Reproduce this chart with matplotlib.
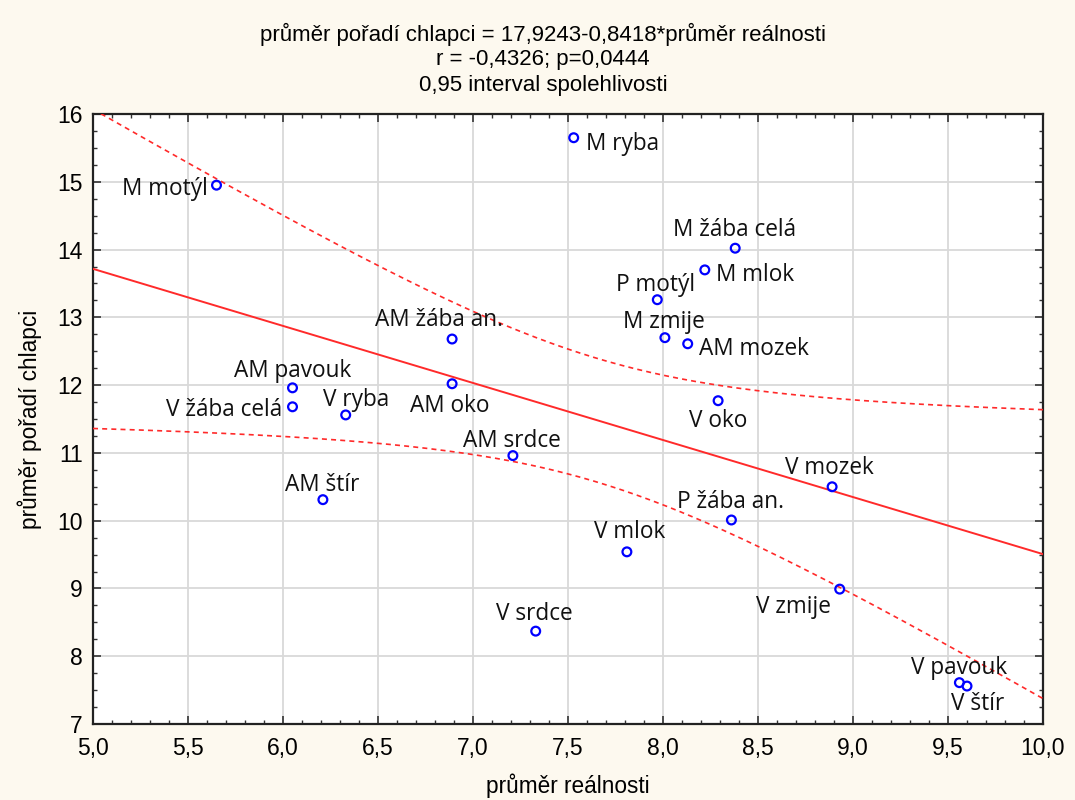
import numpy as np
import matplotlib
matplotlib.use('Agg')
import matplotlib.pyplot as plt
from matplotlib.ticker import MultipleLocator, FuncFormatter

# data
names = ['M motýl', 'M ryba', 'M žába celá', 'M mlok', 'P motýl', 'M zmije',
         'AM mozek', 'AM žába an.', 'AM oko', 'AM pavouk', 'V žába celá',
         'V ryba', 'V oko', 'AM srdce', 'AM štír', 'V mozek', 'P žába an.',
         'V mlok', 'V zmije', 'V srdce', 'V pavouk', 'V štír']
realnost = [5.65, 7.53, 8.38, 8.22, 7.97, 8.01, 8.13, 6.89, 6.89, 6.05, 6.05,
            6.33, 8.29, 7.21, 6.21, 8.89, 8.36, 7.81, 8.93, 7.33, 9.56, 9.60]
poradi = [14.95, 15.65, 14.02, 13.70, 13.26, 12.70, 12.61, 12.68, 12.02, 11.96, 11.68,
          11.56, 11.77, 10.96, 10.31, 10.50, 10.01, 9.54, 8.99, 8.37, 7.61, 7.56]

# regression from the chart title
b0 = 17.9243
b1 = -0.8418

# label offsets in pixels (dx, dy, ha)
offs = [(-9, -4, 'right'), (12, -6, 'left'), (-1, 18, 'center'), (11, -5, 'left'),
        (-2, 15, 'center'), (-1, 16, 'center'), (11, -5, 'left'), (-13, 19, 'center'),
        (-2, -22, 'center'), (0, 17, 'center'), (-10, -3, 'right'), (10, 15, 'center'),
        (0, -20, 'center'), (-1, 15, 'center'), (-1, 15, 'center'), (-3, 19, 'center'),
        (-1, 18, 'center'), (3, 20, 'center'), (-46, -18, 'center'), (-1, 17, 'center'),
        (0, 15, 'center'), (11, -18, 'center')]

x = np.array(realnost)
y = np.array(poradi)
n = len(x)

fig = plt.figure(figsize=(10.75, 8), dpi=100)
fig.patch.set_facecolor('#fdf9ef')
ax = fig.add_axes([93/1075, 1 - 724/800, (1043-93)/1075, (724-114)/800])
ax.set_facecolor('white')

# confidence band for the mean
xx = np.linspace(5, 10, 200)
resid = y - (b0 + b1 * x)
s = np.sqrt(np.sum(resid**2) / (n - 2))
sxx = np.sum((x - x.mean())**2)
t = 2.086
se = s * np.sqrt(1/n + (xx - x.mean())**2 / sxx)
yy = b0 + b1 * xx

ax.plot(xx, yy, color='#ff2a2a', lw=1.4, zorder=3)
ax.plot(xx, yy + t*se, color='#ff2a2a', lw=1.2, ls=(0, (3, 2.5)), zorder=3)
ax.plot(xx, yy - t*se, color='#ff2a2a', lw=1.2, ls=(0, (3, 2.5)), zorder=3)

ax.scatter(x, y, s=40, facecolors='none', edgecolors='#0000ff', linewidths=1.6, zorder=4)

for i in range(n):
    dx, dy, ha = offs[i]
    ax.annotate(names[i], (x[i], y[i]), xytext=(dx, dy), textcoords='offset pixels',
                ha=ha, va='center', fontsize=16.3, family='Open Sans', color='#111111', zorder=5)

ax.set_xlim(5, 10)
ax.set_ylim(7, 16)
ax.xaxis.set_major_locator(MultipleLocator(0.5))
ax.xaxis.set_minor_locator(MultipleLocator(0.1))
ax.yaxis.set_major_locator(MultipleLocator(1))
ax.yaxis.set_minor_locator(MultipleLocator(0.25))
ax.xaxis.set_major_formatter(FuncFormatter(lambda v, p: ('%.1f' % v).replace('.', ',')))
ax.yaxis.set_major_formatter(FuncFormatter(lambda v, p: '%d' % v))
ax.tick_params(which='both', direction='in', top=True, right=True, color='#333333')
ax.tick_params(which='major', length=6, width=1.2, labelsize=16.5)
ax.tick_params(axis='x', which='major', pad=9)
ax.tick_params(axis='y', which='major', pad=7.5)
ax.tick_params(which='minor', length=3, width=1)
for lab in ax.get_xticklabels() + ax.get_yticklabels():
    lab.set_family('Liberation Sans')
ax.grid(True, which='major', color='#d9d9d9', lw=1.3)
ax.set_axisbelow(True)
for sp in ax.spines.values():
    sp.set_color('#222222')
    sp.set_linewidth(1.6)

ax.set_xlabel('průměr reálnosti', fontsize=16.3, family='Liberation Sans', va='center')
ax.xaxis.set_label_coords(0.5, -(786 - 724) / 610)
ax.set_ylabel('průměr pořadí chlapci', fontsize=16.3, family='Liberation Sans', va='center')
ax.yaxis.set_label_coords(-(93 - 30) / 950, 0.5)

fig.text(0.505, 1 - 34/800, 'průměr pořadí chlapci = 17,9243-0,8418*průměr reálnosti',
         ha='center', va='center', fontsize=16, family='Liberation Sans')
fig.text(0.505, 1 - 60/800, 'r = -0,4326; p=0,0444',
         ha='center', va='center', fontsize=16, family='Liberation Sans')
fig.text(0.505, 1 - 86/800, '0,95 interval spolehlivosti',
         ha='center', va='center', fontsize=16, family='Liberation Sans')

fig.savefig('out.png', dpi=100, facecolor=fig.get_facecolor())
